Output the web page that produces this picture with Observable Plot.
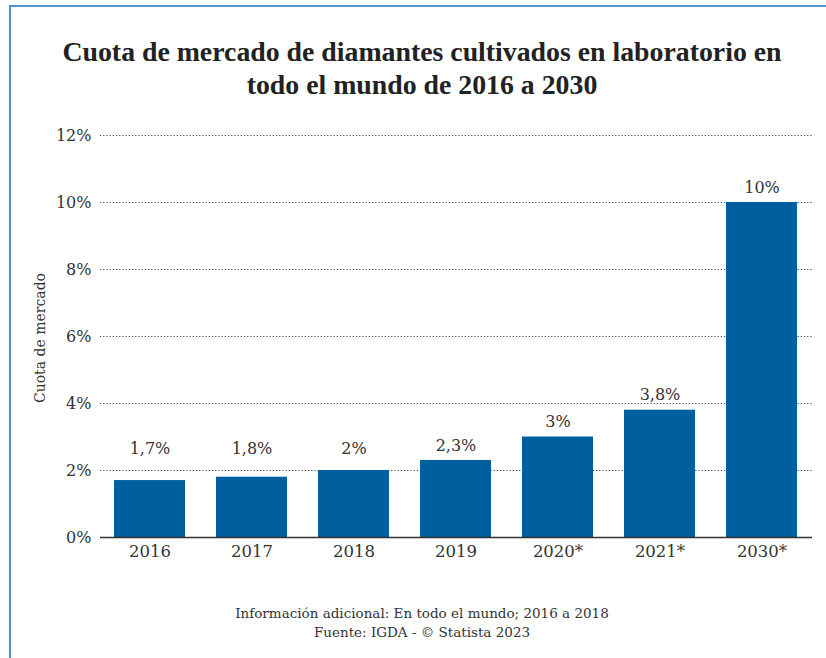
<!DOCTYPE html>
<html><head><meta charset="utf-8">
<script src="https://cdn.jsdelivr.net/npm/d3@7"></script>
<script src="https://cdn.jsdelivr.net/npm/@observablehq/plot@0.6"></script>
<style>
body{margin:0;background:#fff;font-family:"DejaVu Serif",serif;color:#222;width:826px;height:658px;overflow:hidden;position:relative;}
#frame{position:absolute;left:9px;top:5px;width:830px;height:700px;border-left:2px solid #4f94cd;border-top:2px solid #4f94cd;}
#title{position:absolute;left:9px;top:35px;width:826px;text-align:center;font-family:"Liberation Serif",serif;font-weight:bold;font-size:27.8px;line-height:33px;color:#222;}
#chart{position:absolute;left:0;top:110px;}
#ylabel{position:absolute;left:40px;top:338px;transform:translate(-50%,-50%) rotate(-90deg);white-space:nowrap;font-size:14px;color:#333;}
#caption{position:absolute;left:9px;top:604px;width:826px;text-align:center;font-size:13.5px;line-height:19px;color:#333;}
</style></head>
<body>
<div id="frame"></div>
<div id="title">Cuota de mercado de diamantes cultivados en laboratorio en<br>todo el mundo de 2016 a 2030</div>
<div id="chart"></div>
<div id="ylabel">Cuota de mercado</div>
<div id="caption">Información adicional: En todo el mundo; 2016 a 2018<br>Fuente: IGDA - © Statista 2023</div>
<script>
const years = ["2016", "2017", "2018", "2019", "2020*", "2021*", "2030*"];
const shares = [1.7, 1.8, 2, 2.3, 3, 3.8, 10];
const valueLabels = ["1,7%", "1,8%", "2%", "2,3%", "3%", "3,8%", "10%"];
const yTicks = [0, 2, 4, 6, 8, 10, 12];

const data = years.map((y, i) => ({year: y, share: shares[i], label: valueLabels[i]}));

const chart = Plot.plot({
  width: 826,
  height: 460,
  marginLeft: 100,
  marginRight: 14,
  marginTop: 25,
  marginBottom: 33,
  style: {fontFamily: "DejaVu Serif, serif", fontSize: "16px", color: "#333", background: "transparent"},
  x: {domain: years, paddingInner: 0.3, paddingOuter: 0.14, label: null},
  y: {domain: [0, 12], label: null},
  marks: [
    Plot.gridY(yTicks.filter(d => d > 0), {stroke: "#444", strokeOpacity: 1, strokeDasharray: "1.2,2", strokeWidth: 1}),
    Plot.barY(data, {x: "year", y: "share", fill: "#005f9e"}),
    Plot.ruleY([0], {stroke: "#333", strokeWidth: 1.5}),
    Plot.text(data, {x: "year", y: d => Math.max(d.share, 2.2), text: "label", dy: -15, fontSize: 16, fill: "#333"}),
    Plot.axisY({ticks: yTicks, tickFormat: d => d + "%", tickSize: 0, tickPadding: 9, label: null, fontSize: 16}),
    Plot.axisX({tickSize: 0, tickPadding: 8, label: null, fontSize: 16.5})
  ]
});
document.getElementById("chart").appendChild(chart);
</script>
</body></html>
